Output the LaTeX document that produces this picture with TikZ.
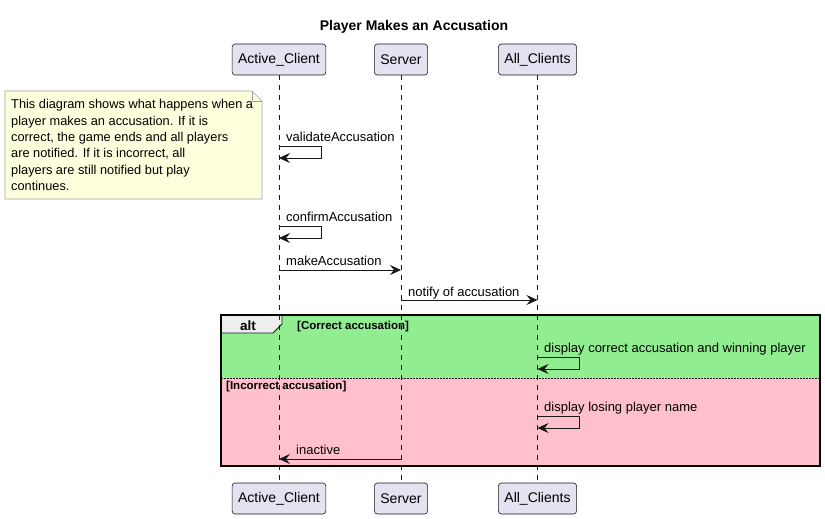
\documentclass[tikz,border=0pt]{standalone}
\usepackage{fontspec}
\setmainfont{Liberation Sans}
\usetikzlibrary{arrows.meta}
\definecolor{partfill}{HTML}{E2E2F0}
\definecolor{linec}{HTML}{181818}
\definecolor{notefill}{HTML}{FEFFDD}
\definecolor{noteborder}{HTML}{A0A0A0}
\definecolor{altgreen}{HTML}{90EE90}
\definecolor{altpink}{HTML}{FFC0CB}
\definecolor{tabfill}{HTML}{EEEEEE}
\tikzset{
  part/.style={draw=linec, fill=partfill, rounded corners=3pt, line width=0.6pt, minimum height=31pt, inner xsep=6pt, font=\fontsize{14}{16}\selectfont},
  lifeline/.style={draw=linec, line width=0.5pt, dash pattern=on 5pt off 5pt},
  msg/.style={draw=linec, line width=0.9pt, -{Stealth[length=11pt,width=10pt,inset=4pt]}},
  msglabel/.style={anchor=base west, inner sep=0pt, font=\fontsize{13}{15}\selectfont},
  guard/.style={anchor=base west, inner sep=0pt, font=\bfseries\fontsize{11.5}{13}\selectfont},
}
\begin{document}
\begin{tikzpicture}[x=1pt,y=-1pt]
\useasboundingbox (0,0) rectangle (825,519);
% title
\node[font=\bfseries\fontsize{14}{16}\selectfont, anchor=base] (title) at (414,30.5) {Player Makes an Accusation};
% participants
\node[part] (ac) at (279,59.5) {Active\_Client};
\node[part] (sv) at (401,59.5) {Server};
\node[part] (al) at (537.5,59.5) {All\_Clients};
\node[part] (acb) at (279,498.5) {Active\_Client};
\node[part] (svb) at (401,498.5) {Server};
\node[part] (alb) at (537.5,498.5) {All\_Clients};
% alt frame background
\fill[altgreen] (221,315) rectangle (820,378);
\fill[altpink] (221,378) rectangle (820,466);
\draw[linec, line width=0.6pt, dash pattern=on 1.5pt off 1.5pt] (221,378) -- (820,378);
\draw[linec, line width=0.8pt, fill=tabfill] (221,315) -- (282,315) -- (282,324) -- (273,333) -- (221,333) -- cycle;
\node[font=\bfseries\fontsize{13.5}{15}\selectfont, anchor=base] (alttab) at (248,330) {alt};
\node[guard] (g1) at (297,329.5) {[Correct accusation]};
\node[guard] (g2) at (226,389.5) {[Incorrect accusation]};
\draw[black, line width=1.5pt] (221,315) rectangle (820,466);
% lifelines
\draw[lifeline] (ac.south) -- (acb.north);
\draw[lifeline] (sv.south) -- (svb.north);
\draw[lifeline] (al.south) -- (alb.north);
% note
\draw[noteborder, line width=0.6pt, fill=notefill] (5,91) -- (252,91) -- (262,101) -- (262,199) -- (5,199) -- cycle;
\draw[noteborder, line width=0.6pt] (252,91) -- (252,101) -- (262,101);
\node[anchor=north west, align=left, inner sep=0pt, font=\fontsize{12.8}{16.3}\selectfont] (note) at (11,99.5) {This diagram shows what happens when a\\player makes an accusation. If it is\\correct, the game ends and all players\\are notified. If it is incorrect, all\\players are still notified but play\\continues.};
% coordinates for self messages
\coordinate (v1) at (279,146); \coordinate (v2) at (321,146); \coordinate (v3) at (321,158); \coordinate (v4) at (279,158);
\coordinate (c1) at (279,226); \coordinate (c2) at (321,226); \coordinate (c3) at (321,238); \coordinate (c4) at (279,238);
\coordinate (d1) at (537.5,357); \coordinate (d2) at (579,357); \coordinate (d3) at (579,369); \coordinate (d4) at (537.5,369);
\coordinate (e1) at (537.5,416); \coordinate (e2) at (579,416); \coordinate (e3) at (579,428); \coordinate (e4) at (537.5,428);
\coordinate (m1) at (279,270); \coordinate (m2) at (401,270);
\coordinate (n1) at (401,300); \coordinate (n2) at (537.5,300);
\coordinate (i1) at (401,459); \coordinate (i2) at (279,459);
% messages
\node[msglabel] (lv) at (286,141) {validateAccusation};
\draw[msg] (v1) -- (v2) -- (v3) -- (v4);
\node[msglabel] (lc) at (286,221) {confirmAccusation};
\draw[msg] (c1) -- (c2) -- (c3) -- (c4);
\node[msglabel] (lm) at (286,265) {makeAccusation};
\draw[msg] (m1) -- (m2);
\node[msglabel] (ln) at (408,296) {notify of accusation};
\draw[msg] (n1) -- (n2);
\node[msglabel] (ld) at (544,352) {display correct accusation and winning player};
\draw[msg] (d1) -- (d2) -- (d3) -- (d4);
\node[msglabel] (le) at (544,411) {display losing player name};
\draw[msg] (e1) -- (e2) -- (e3) -- (e4);
\node[msglabel] (li) at (296,454) {inactive};
\draw[msg] (i1) -- (i2);
\end{tikzpicture}
\end{document}
